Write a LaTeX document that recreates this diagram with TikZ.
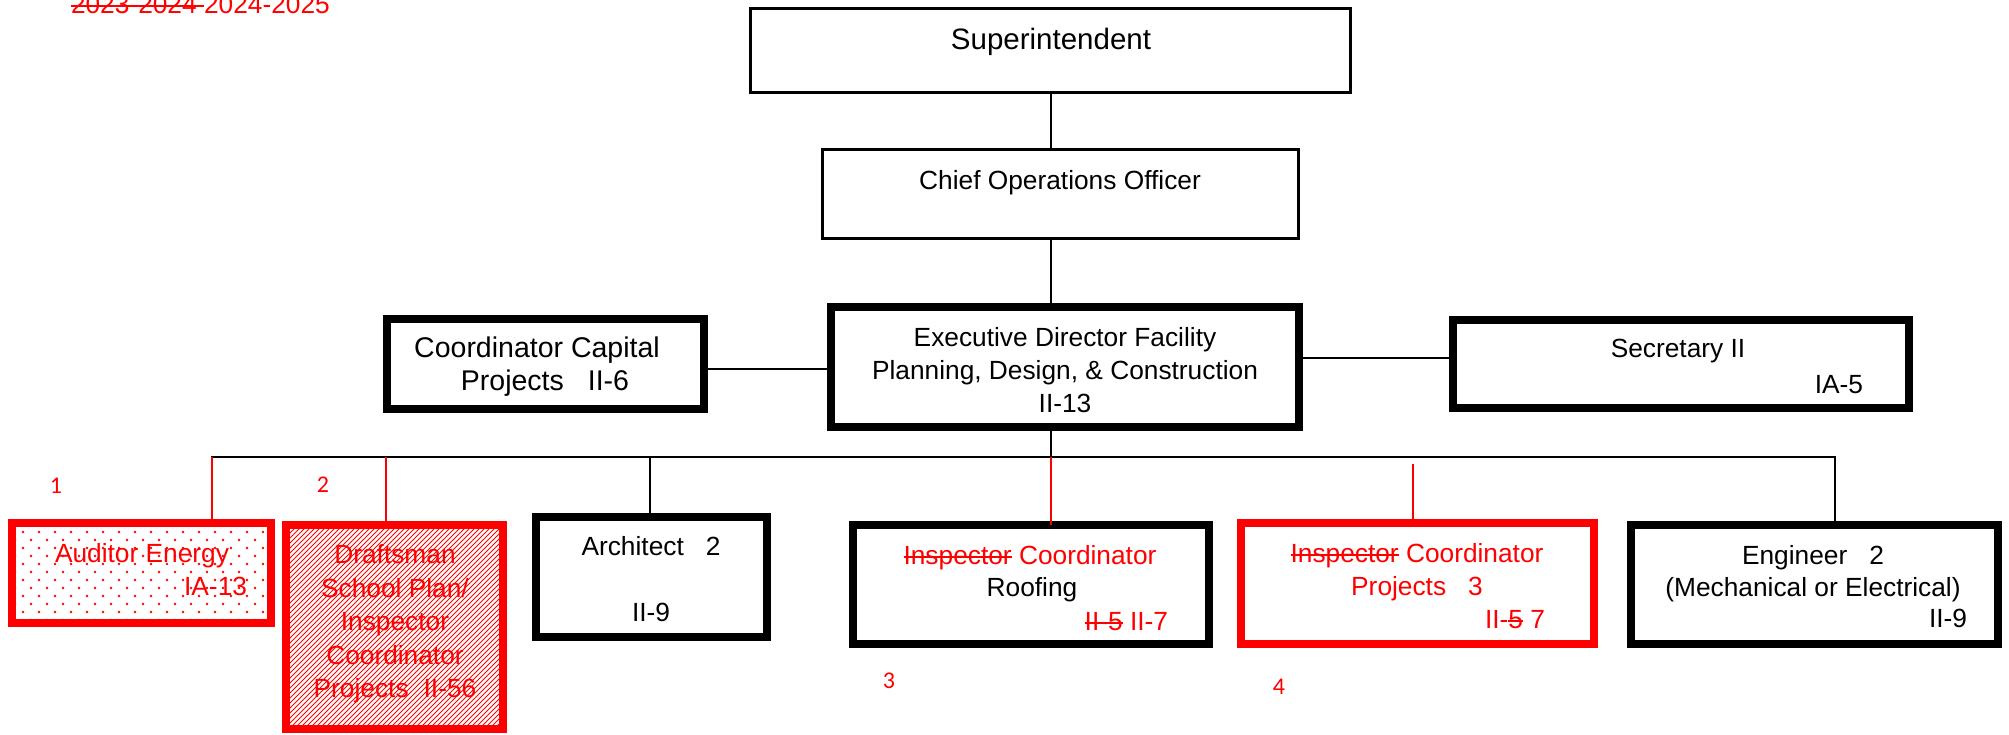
\documentclass[tikz,border=0pt]{standalone}
\usepackage{fontspec}
\setmainfont{Liberation Sans}
\newfontfamily\numfont{Carlito}
\usetikzlibrary{backgrounds}
% struck-through text: rule across the middle of the x-height
\newcommand\crossed[1]{\setbox0=\hbox{#1}\rlap{\rule[0.26em]{\wd0}{1.8pt}}\box0\relax}
\begin{document}
\begin{tikzpicture}[x=1pt,y=-1pt,
  every node/.style={inner sep=0pt, outer sep=0pt},
  txt/.style={font=\fontsize{26.3}{33}\selectfont, text=black},
  bigtxt/.style={font=\fontsize{29.5}{35}\selectfont, text=black},
  midtxt/.style={font=\fontsize{28.5}{34}\selectfont, text=black},
  redtxt/.style={txt, text=red},
  thinbox/.style={draw=black, line width=3pt},
  thickbox/.style={draw=black, line width=8pt},
  redbox/.style={draw=red, line width=8pt},
  conn/.style={line width=1.5pt, draw=black},
  redconn/.style={line width=1.5pt, draw=red},
  tag/.style={font=\numfont\fontsize{24}{28}\selectfont, text=red}]
\useasboundingbox (0,0) rectangle (2009,735);

% ---------- boxes ----------
\node[thinbox, minimum width=600pt, minimum height=84pt] (sup) at (1050.5,50.5) {};
\node[thinbox, minimum width=476pt, minimum height=89pt] (chief) at (1060.5,194) {};
\node[thickbox, minimum width=468pt, minimum height=120pt] (exec) at (1065,367) {};
\node[thickbox, minimum width=317pt, minimum height=90pt] (cap) at (545.5,364) {};
\node[thickbox, minimum width=456pt, minimum height=88pt] (sec) at (1681,364) {};
\node[redbox, minimum width=259pt, minimum height=100pt] (aud) at (141.5,573) {};
\node[redbox, minimum width=217pt, minimum height=204pt] (draft) at (394.5,627) {};
\node[thickbox, minimum width=231pt, minimum height=120pt] (arch) at (651.5,577) {};
\node[thickbox, minimum width=356pt, minimum height=119pt] (roof) at (1031,584.5) {};
\node[redbox, minimum width=353pt, minimum height=121pt] (proj) at (1417.5,583.5) {};
\node[thickbox, minimum width=367pt, minimum height=119pt] (eng) at (1814.5,584.5) {};

% ---------- fills behind the red boxes ----------
\begin{scope}[on background layer]
  % staggered dots
  \begin{scope}
    \clip (aud.north west) rectangle (aud.south east);
    \foreach \r in {0,...,12}{
      \foreach \c in {0,...,17}{
        \fill[red] ({7+\c*16+mod(\r,2)*8},{532+\r*8}) circle (1.3pt);
      }
    }
  \end{scope}
  % diagonal hatching
  \begin{scope}
    \clip (draft.north west) rectangle (draft.south east);
    \foreach \k in {0,...,92}{
      \draw[red, line width=1pt] ({58+\k*5},740) -- ++(245,-245);
    }
  \end{scope}
\end{scope}

% ---------- connectors ----------
\coordinate (busL) at (211,457);
\coordinate (busR) at (1836,457);
\coordinate (d1) at (212,457);
\coordinate (d2) at (386,457);
\coordinate (d3) at (650,457);
\coordinate (d4) at (1051,457);
\coordinate (d5) at (1413,464);
\coordinate (d6) at (1835,457);

\draw[conn] (sup.south -| d4) -- (chief.north -| d4);
\draw[conn] (chief.south -| d4) -- (exec.north -| d4);
\draw[conn] (exec.south -| d4) -- (d4);
\draw[conn] ([yshift=-5pt]cap.east) -- ([yshift=-5pt]cap.east -| exec.west);
\draw[conn] ([yshift=6pt]sec.west) -- ([yshift=6pt]sec.west -| exec.east);
\draw[line width=2pt] (busL) -- (busR);
\draw[redconn] (d1) -- (d1 |- aud.north);
\draw[redconn] (d2) -- (d2 |- draft.north);
\draw[conn] (d3) -- (d3 |- arch.north);
\draw[redconn] (d4) -- (d4 |- roof.north);
\draw[redconn] (d5) -- (d5 |- proj.north);
\draw[conn] (d6) -- (d6 |- eng.north);

% ---------- texts ----------
\node[redtxt, anchor=base west] (year) at (71,14) {\crossed{2023-2024 }2024-2025};

\node[bigtxt, anchor=base] (sup-t) at (1051,50) {Superintendent};
\node[txt, anchor=base] (chief-t) at (1060,189.5) {Chief Operations Officer};
\node[txt, anchor=base] (exec-t1) at (1065,346.5) {Executive Director Facility};
\node[txt, anchor=base] (exec-t2) at (1065,379.5) {Planning, Design, \& Construction};
\node[txt, anchor=base] (exec-t3) at (1065,412) {II-13};
\node[midtxt, anchor=base] (cap-t1) at (537,357.5) {Coordinator Capital};
\node[midtxt, anchor=base] (cap-t2) at (545,390.5) {Projects\hspace{24pt}II-6};
\node[txt, anchor=base] (sec-t1) at (1678,357.5) {Secretary II};
\node[txt, anchor=base east] (sec-t2) at (1863,393.5) {IA-5};

\node[redtxt, anchor=base] (aud-t1) at (142,562.5) {Auditor Energy};
\node[redtxt, anchor=base east] (aud-t2) at (247,595.5) {IA-13};

\node[redtxt, anchor=base] (draft-t1) at (395,563.5) {Draftsman};
\node[redtxt, anchor=base] (draft-t2) at (395,597) {School Plan/};
\node[redtxt, anchor=base] (draft-t3) at (395,630.5) {Inspector};
\node[redtxt, anchor=base] (draft-t4) at (395,664) {Coordinator};
\node[redtxt, anchor=base] (draft-t5) at (395,697.5) {Projects\hspace{15pt}II-56};

\node[txt, anchor=base] (arch-t1) at (651,555.5) {Architect\hspace{22pt}2};
\node[txt, anchor=base] (arch-t2) at (651,621.5) {II-9};

\node[redtxt, anchor=base] (roof-t1) at (1030,564.5) {\crossed{Inspector} Coordinator};
\node[txt, anchor=base] (roof-t2) at (1032,596.5) {Roofing};
\node[redtxt, anchor=base east] (roof-t3) at (1168,630.5) {\crossed{II-5} II-7};

\node[redtxt, anchor=base] (proj-t1) at (1417,562.5) {\crossed{Inspector} Coordinator};
\node[redtxt, anchor=base] (proj-t2) at (1417,595.5) {Projects\hspace{22pt}3};
\node[redtxt, anchor=base east] (proj-t3) at (1545,628.5) {II-\crossed{5} 7};

\node[txt, anchor=base] (eng-t1) at (1813,564.5) {Engineer\hspace{22pt}2};
\node[txt, anchor=base] (eng-t2) at (1813,596.5) {(Mechanical or Electrical)};
\node[txt, anchor=base east] (eng-t3) at (1967,627.5) {II-9};

% ---------- position numbers ----------
\node[tag, anchor=base] (n1) at (56,493.5) {1};
\node[tag, anchor=base] (n2) at (323,492.5) {2};
\node[tag, anchor=base] (n3) at (889,688.5) {3};
\node[tag, anchor=base] (n4) at (1279,694.5) {4};
\end{tikzpicture}
\end{document}
